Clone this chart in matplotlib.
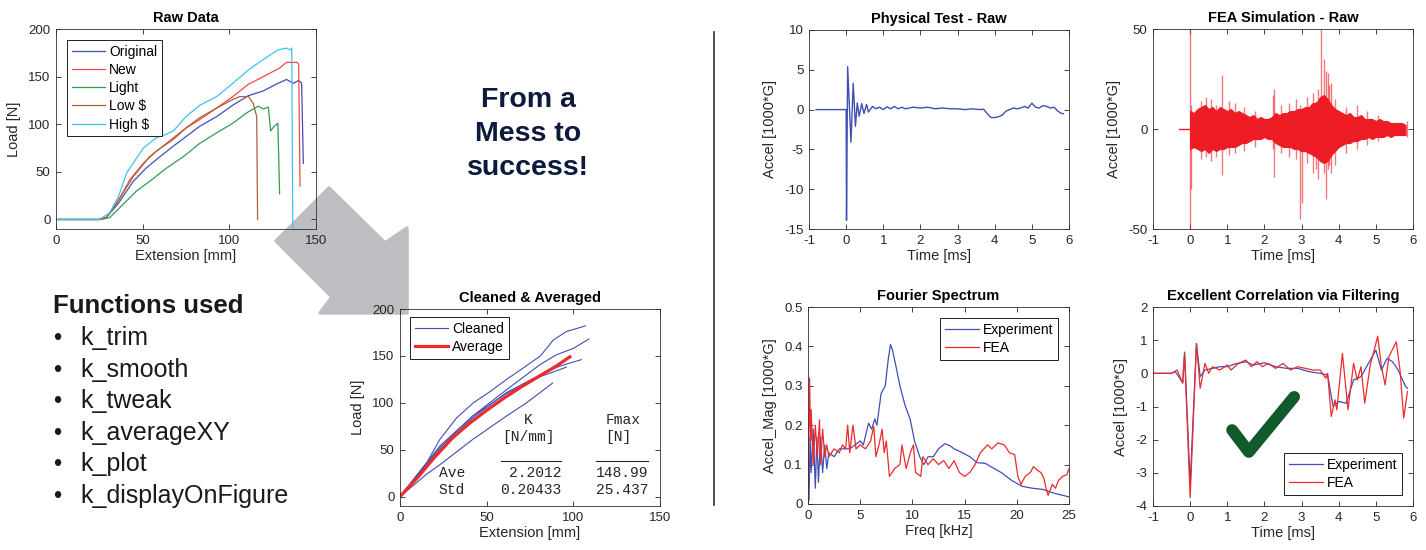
# -*- coding: utf-8 -*-

# ============================================================
#  Load / acceleration data clean-up overview (6 panels)
# ============================================================

import matplotlib.pyplot as plt
from matplotlib.lines import Line2D
from matplotlib.patches import Polygon
from matplotlib.ticker import FuncFormatter

W, H = 1426, 550

plt.rcParams['font.family'] = ['Liberation Sans', 'DejaVu Sans']
plt.rcParams['axes.unicode_minus'] = False

# ============================================================
# 1. Data
# ============================================================

# --- Raw Data (extension [mm], load [N]) ---
orig_x = [0, 25, 29, 36, 44.6, 52, 60, 67.7, 75, 83, 92.7, 102, 111, 119.6, 127, 133, 137, 140, 141.7, 142.7]
orig_y = [0, 0, 2, 17, 40, 54, 66, 77, 87, 98, 108, 120, 130, 135, 142, 147, 143, 146, 143, 59]
new_x = [0, 25, 29, 35, 42.7, 50.4, 58, 67.7, 75, 83, 92.7, 102, 111, 119.6, 129, 133, 139, 140, 140.8]
new_y = [0, 0, 2, 17, 42, 59, 72, 84, 96, 105, 117, 129, 142, 150, 159, 165, 165, 163, 35]
light_x = [0, 26, 31, 38.8, 46.5, 54, 63.8, 73.5, 83, 92.7, 102, 110, 116.7, 119.6, 122.5, 123.8, 126, 128, 129]
light_y = [0, 0, 2, 16, 30, 40, 54, 66, 80, 91, 101, 112, 119, 116, 118, 93, 98, 101, 27]
low_x = [0, 25, 29, 37, 44.6, 54, 63.8, 73.5, 83, 92.7, 102, 106, 111, 113.8, 115.8, 116.3]
low_y = [0, 0, 2, 23, 45, 66, 80, 94, 107, 117, 126, 129, 129, 122, 108, 0]
high_x = [0, 25, 31, 36, 40.8, 50.4, 58, 63, 67.7, 75, 83, 92.7, 102, 111, 119.6, 128, 133, 135, 136, 136.6]
high_y = [0, 0, 7, 24, 49, 75, 86, 89, 93, 108, 120, 129, 143, 157, 168, 178, 180, 178, 180, -9]

raw_labels = ['Original', 'New', 'Light', 'Low $', 'High $']

# --- Cleaned & Averaged ---
clean1_x = [0, 15.4, 23, 32.7, 42.3, 52, 61.5, 71, 81, 88.5, 96, 107]
clean1_y = [0, 36, 61, 84, 100, 112, 125, 137, 150, 167, 176, 182]
clean2_x = [0, 23, 42, 61.5, 81, 90, 100, 109]
clean2_y = [0, 54, 86, 114, 141, 151, 158, 168]
clean3_x = [0, 23, 42, 61.5, 81, 92, 104.6]
clean3_y = [0, 50, 84, 111, 130, 139, 146]
clean4_x = [0, 23, 42, 61.5, 81, 96]
clean4_y = [0, 52, 86, 110, 128, 138]
clean5_x = [0, 15.4, 23, 42, 61.5, 73, 88]
clean5_y = [0, 24, 34, 61, 86, 100, 121]
avg_x = [0, 10, 20, 30, 40, 50, 60, 70, 80, 90, 98]
avg_y = [0, 20, 42, 62, 78, 92, 105, 117, 128, 139, 149]

stat_rows = ['Ave', 'Std']
stat_k = ['2.2012', '0.20433']
stat_fmax = ['148.99', '25.437']

# --- Physical Test - Raw (time [ms], accel [1000*G]) ---
phys_t = [-0.81, 0.0, 0.01, 0.04, 0.13, 0.19, 0.25, 0.30, 0.35, 0.42, 0.48, 0.55, 0.60, 0.71,
          0.8, 0.9, 1.0, 1.1, 1.2, 1.3, 1.4, 1.5, 1.6, 1.8, 2.0, 2.2, 2.4, 2.6, 2.8, 3.0,
          3.2, 3.4, 3.6, 3.7, 3.8, 3.9, 4.0, 4.1, 4.2, 4.3, 4.4, 4.5, 4.6, 4.7, 4.8, 4.9,
          5.0, 5.1, 5.2, 5.3, 5.4, 5.5, 5.6, 5.7, 5.8, 5.85]
phys_a = [0, 0, -13.9, 5.4, -4.1, 3.3, -2.1, 0.85, -0.85, 0.75, -0.5, 0.65, -0.3, 0.4,
          0.1, 0.3, 0.0, 0.35, 0.1, 0.4, 0.1, 0.3, 0.1, 0.3, 0.2, 0.3, 0.1, 0.2, 0.1, 0.1,
          0.0, 0.1, 0.0, 0.05, -0.5, -1.0, -1.0, -0.9, -0.7, -0.2, 0.0, 0.2, 0.1, 0.2, 0.4, 0.2,
          0.8, 0.3, 0.2, 0.5, 0.4, 0.2, 0.3, -0.2, -0.5, -0.5]

# --- FEA Simulation - Raw: envelope of the dense band plus single spikes ---
fea_t = [0.0, 0.1, 0.2, 0.3, 0.4, 0.5, 0.6, 0.7, 0.8, 0.9, 1.0, 1.1, 1.2, 1.3, 1.4, 1.5,
         1.6, 1.7, 1.8, 1.9, 2.0, 2.1, 2.2, 2.3, 2.4, 2.5, 2.6, 2.7, 2.8, 2.9, 3.0, 3.1,
         3.2, 3.3, 3.4, 3.5, 3.6, 3.7, 3.8, 3.9, 4.0, 4.1, 4.2, 4.3, 4.4, 4.5, 4.6, 4.7,
         4.8, 4.9, 5.0, 5.1, 5.2, 5.3, 5.4, 5.5, 5.6, 5.7, 5.8]
fea_upper = [9, 8, 10, 11, 12, 10, 11, 9, 11, 10, 9, 10, 8, 9, 8, 7,
             6, 7, 5, 6, 5, 5, 6, 8, 7, 8, 8, 9, 9, 10, 10, 11,
             11, 13, 13, 16, 17, 15, 12, 10, 9, 8, 7, 8, 6, 6, 7, 5,
             5, 5, 4, 5, 4, 4, 3, 3, 3, 3, 2]
fea_lower = [-10, -9, -10, -11, -10, -12, -10, -11, -10, -10, -9, -9, -9, -8, -7, -7,
             -6, -5, -5, -5, -4, -5, -5, -7, -8, -9, -9, -9, -10, -10, -11, -11,
             -12, -13, -14, -16, -17, -16, -13, -11, -9, -8, -7, -7, -6, -6, -5, -5,
             -4, -5, -4, -4, -4, -3, -4, -3, -3, -3, -3]
fea_pre_t = [-0.3, 0.0]
fea_pre_a = [0, 0]
spike_t = [0.0, 0.02, 0.3, 0.44, 0.55, 0.7, 0.87, 1.05, 1.2, 1.45, 1.75, 2.22, 2.27, 2.45,
           2.65, 2.85, 2.95, 3.0, 3.15, 3.3, 3.4, 3.45, 3.53, 3.6, 3.65, 3.7, 3.75, 3.8,
           3.9, 4.2, 4.5, 4.75, 5.05, 5.85]
spike_top = [55, 12, 14, 16, 15, 12, 27, 14, 13, 11, 9, 17, 20, 12,
             13, 15, 12, 10, 16, 18, 14, 20, 55, 35, 29, 28, 22, 23,
             15, 11, 12, 9, 7, 4]
spike_bot = [-55, -30, -15, -14, -16, -14, -23, -13, -12, -11, -9, -10, -24, -12,
             -14, -15, -45, -37, -17, -22, -20, -25, -10, -22, -35, -20, -18, -22,
             -18, -12, -10, -8, -6, -4]

# --- Fourier Spectrum (freq [kHz], magnitude) ---
exp_f = [0.1, 0.2, 0.3, 0.5, 0.7, 0.85, 1.0, 1.2, 1.4, 1.6, 1.8, 2.0, 2.5, 3.0, 4.0, 4.5,
         5.0, 5.3, 5.8, 6.1, 6.4, 6.6, 7.0, 7.4, 7.7, 7.9, 8.1, 8.5, 8.8, 9.3, 9.8, 10.2,
         10.7, 11.1, 11.5, 12.0, 12.5, 13.1, 13.6, 14.0, 14.8, 15.5, 16.2, 17.0, 17.5, 18.5,
         19.5, 20.5, 21.5, 22.5, 23.5, 25.0]
exp_mag = [0.01, 0.17, 0.08, 0.19, 0.04, 0.17, 0.055, 0.17, 0.08, 0.15, 0.09, 0.13, 0.12, 0.14, 0.14, 0.15,
           0.16, 0.15, 0.205, 0.19, 0.216, 0.2, 0.28, 0.3, 0.37, 0.405, 0.39, 0.34, 0.3, 0.25, 0.214, 0.16,
           0.12, 0.1, 0.12, 0.12, 0.14, 0.153, 0.148, 0.14, 0.13, 0.12, 0.105, 0.103, 0.095, 0.08,
           0.06, 0.045, 0.04, 0.037, 0.028, 0.018]
fea_f = [0.0, 0.15, 0.25, 0.3, 0.5, 0.7, 0.9, 1.1, 1.2, 1.4, 1.6, 1.8, 2.0, 2.5, 3.0, 3.3,
         3.6, 3.8, 4.0, 4.3, 4.6, 5.0, 5.5, 6.0, 6.3, 6.5, 6.8, 7.1, 7.3, 7.5, 7.8, 8.3,
         8.8, 9.0, 9.4, 9.8, 10.1, 10.3, 10.8, 11.0, 11.5, 12.0, 12.5, 13.0, 13.5, 14.0,
         14.5, 15.0, 15.5, 16.0, 16.5, 17.2, 17.6, 18.2, 18.8, 19.3, 19.8, 20.1, 20.4, 20.8,
         21.3, 21.6, 22.0, 22.3, 22.6, 22.8, 23.0, 23.4, 23.7, 24.0, 24.4, 24.8, 25.0]
fea_mag = [0.0, 0.32, 0.16, 0.24, 0.1, 0.2, 0.12, 0.214, 0.1, 0.19, 0.12, 0.15, 0.12, 0.14, 0.13, 0.15,
           0.14, 0.2, 0.13, 0.2, 0.14, 0.15, 0.14, 0.16, 0.197, 0.12, 0.15, 0.19, 0.13, 0.16, 0.07, 0.09,
           0.1, 0.15, 0.09, 0.13, 0.15, 0.08, 0.07, 0.12, 0.1, 0.115, 0.1, 0.11, 0.09, 0.11,
           0.08, 0.07, 0.08, 0.1, 0.13, 0.15, 0.14, 0.155, 0.15, 0.13, 0.125, 0.07, 0.05, 0.07,
           0.08, 0.095, 0.085, 0.08, 0.065, 0.04, 0.022, 0.05, 0.04, 0.06, 0.07, 0.075, 0.09]

# --- Excellent Correlation via Filtering (filtered signals) ---
corr_exp_t = [-1.0, -0.5, -0.4, -0.2, -0.15, 0.0, 0.17, 0.27, 0.4, 0.6, 0.8, 1.0, 1.2, 1.5, 1.7,
              2.0, 2.3, 2.6, 2.9, 3.2, 3.5, 3.7, 3.85, 4.0, 4.2, 4.4, 4.6, 4.8, 5.0, 5.15, 5.3,
              5.45, 5.6, 5.8, 5.85]
corr_exp_a = [0, 0, 0.05, -0.28, 0.64, -3.35, 0.9, -0.1, 0.1, 0.15, 0.2, 0.2, 0.28, 0.35, 0.25,
              0.32, 0.2, 0.15, 0.15, 0.05, 0.0, -0.05, -1.0, -0.85, -0.9, -0.2, -0.1, 0.3, 0.7, 0.1, 0.45,
              0.35, 0.1, -0.4, -0.45]
corr_fea_t = [-1.0, -0.5, -0.35, -0.2, -0.15, 0.0, 0.17, 0.27, 0.4, 0.5, 0.6, 0.8, 1.0, 1.1, 1.3,
              1.5, 1.65, 1.8, 1.95, 2.1, 2.3, 2.5, 2.7, 2.9, 3.1, 3.3, 3.5, 3.65, 3.7, 3.8, 3.9,
              3.95, 4.1, 4.25, 4.4, 4.5, 4.6, 4.7, 4.85, 5.05, 5.15, 5.25, 5.35, 5.55, 5.65, 5.75, 5.85]
corr_fea_a = [0, 0, 0.1, -0.3, 0.6, -3.75, 0.9, -0.45, 0.3, 0.0, 0.2, 0.1, 0.25, 0.1, 0.3,
              0.4, 0.2, 0.35, 0.2, 0.3, 0.15, 0.3, 0.1, 0.2, 0.15, 0.1, 0.1, -0.15, 0.0, -1.3, -0.8,
              -1.1, 0.6, -1.1, 0.3, -0.2, 0.2, -0.9, 0.25, 1.12, 0.2, -0.35, 0.5, 0.95, 0.1, -1.35, -0.55]

functions_used = ['k_trim', 'k_smooth', 'k_tweak', 'k_averageXY', 'k_plot', 'k_displayOnFigure']
headline = ['From a', 'Mess to', 'success!']

# ============================================================
# 2. Styling helpers
# ============================================================

BLUE = '#3f4fb4'
RED = '#ee2a2a'
FEA_RED = '#ee1c24'
TXT = '#262626'


def fig_box(left, top, right, bottom):
    """Axes rectangle from pixel edges (origin top-left)."""
    return [left / W, 1 - bottom / H, (right - left) / W, (bottom - top) / H]


def fx(px):
    return px / W


def fy(py):
    return 1 - py / H


def style_axes(ax, title, xlabel, ylabel):
    ax.set_facecolor('none')
    ax.set_title(title, fontsize=10.5, fontweight='bold', pad=5, color='black')
    ax.set_xlabel(xlabel, fontsize=10.5, color=TXT, labelpad=2)
    ax.set_ylabel(ylabel, fontsize=10.5, color=TXT, labelpad=5)
    ax.tick_params(direction='in', top=True, right=True, length=3.5, width=0.6,
                   labelsize=9.5, colors=TXT, pad=4)
    for s in ax.spines.values():
        s.set_color('#303030')
        s.set_linewidth(0.6)
    ax.yaxis.set_major_formatter(FuncFormatter(lambda v, p: '%g' % round(v, 6)))


def matlab_legend(ax, **kw):
    leg = ax.legend(fontsize=10, frameon=True, fancybox=False, framealpha=1,
                    borderaxespad=0, borderpad=0.35, labelspacing=0.3,
                    handlelength=2.4, handletextpad=0.3, **kw)
    leg.get_frame().set_edgecolor('#202020')
    leg.get_frame().set_linewidth(0.7)
    return leg


fig = plt.figure(figsize=(W / 100, H / 100), dpi=100)

# ============================================================
# 3. Raw Data
# ============================================================

ax1 = fig.add_axes(fig_box(56, 29, 316, 229))
raw_series = [(orig_x, orig_y, BLUE), (new_x, new_y, '#f24848'), (light_x, light_y, '#2f9d52'),
              (low_x, low_y, '#a8633b'), (high_x, high_y, '#3cc4f0')]
for (xs, ys, col), lab in zip(raw_series, raw_labels):
    ax1.plot(xs, ys, color=col, lw=0.9, label=lab)
ax1.set_xlim(0, 150)
ax1.set_ylim(-10, 200)
ax1.set_xticks([0, 50, 100, 150])
ax1.set_yticks([0, 50, 100, 150, 200])
style_axes(ax1, 'Raw Data', 'Extension [mm]', 'Load [N]')
matlab_legend(ax1, loc='upper left', bbox_to_anchor=(0.042, 0.945))

# ============================================================
# 4. Cleaned & Averaged
# ============================================================

ax2 = fig.add_axes(fig_box(400, 309, 660, 506))
cleaned = [(clean1_x, clean1_y), (clean2_x, clean2_y), (clean3_x, clean3_y),
           (clean4_x, clean4_y), (clean5_x, clean5_y)]
for i, (xs, ys) in enumerate(cleaned):
    ax2.plot(xs, ys, color=BLUE, lw=0.8, label='Cleaned' if i == 0 else None)
ax2.plot(avg_x, avg_y, color=RED, lw=2.3, label='Average')
ax2.set_xlim(0, 150)
ax2.set_ylim(-10, 200)
ax2.set_xticks([0, 50, 100, 150])
ax2.set_yticks([0, 50, 100, 150, 200])
style_axes(ax2, 'Cleaned & Averaged', 'Extension [mm]', 'Load [N]')
matlab_legend(ax2, loc='upper left', bbox_to_anchor=(0.038, 0.959))

mono = dict(family=['Liberation Mono', 'DejaVu Sans Mono'], fontsize=10.5, color=TXT)
ax2.text(74, 82, 'K', ha='center', va='center', **mono)
ax2.text(74, 64, '[N/mm]', ha='center', va='center', **mono)
ax2.text(128.5, 82, 'Fmax', ha='center', va='center', **mono)
ax2.text(126, 64, '[N]', ha='center', va='center', **mono)
ax2.plot([58, 93], [37.5, 37.5], color=TXT, lw=0.8)
ax2.plot([113, 143], [37.5, 37.5], color=TXT, lw=0.8)
for row, lab in enumerate(stat_rows):
    yy = 25.5 - row * 18.5
    ax2.text(22.3, yy, lab, ha='left', va='center', **mono)
    ax2.text(93, yy, stat_k[row], ha='right', va='center', **mono)
    ax2.text(143.3, yy, stat_fmax[row], ha='right', va='center', **mono)

# ============================================================
# 5. Physical Test - Raw
# ============================================================

ax3 = fig.add_axes(fig_box(809, 30, 1069, 229))
ax3.plot(phys_t, phys_a, color=BLUE, lw=1.0)
ax3.set_xlim(-1, 6)
ax3.set_ylim(-15, 10)
ax3.set_xticks(range(-1, 7))
ax3.set_yticks([-15, -10, -5, 0, 5, 10])
style_axes(ax3, 'Physical Test - Raw', 'Time [ms]', 'Accel [1000*G]')

# ============================================================
# 6. FEA Simulation - Raw
# ============================================================

ax4 = fig.add_axes(fig_box(1153, 29, 1413, 229))
ax4.plot(fea_pre_t, fea_pre_a, color=FEA_RED, lw=1.0)
ax4.vlines(spike_t, spike_bot, spike_top, color=FEA_RED, lw=1.0, alpha=0.6)
ax4.fill_between(fea_t, fea_lower, fea_upper, color=FEA_RED, lw=0.8, edgecolor=FEA_RED)
ax4.set_xlim(-1, 6)
ax4.set_ylim(-50, 50)
ax4.set_xticks(range(-1, 7))
ax4.set_yticks([-50, 0, 50])
style_axes(ax4, 'FEA Simulation - Raw', 'Time [ms]', 'Accel [1000*G]')

# ============================================================
# 7. Fourier Spectrum
# ============================================================

ax5 = fig.add_axes(fig_box(808, 307, 1069, 504))
ax5.plot(exp_f, exp_mag, color=BLUE, lw=0.9, label='Experiment')
ax5.plot(fea_f, fea_mag, color=RED, lw=0.9, label='FEA')
ax5.set_xlim(0, 25)
ax5.set_ylim(0, 0.5)
ax5.set_xticks([0, 5, 10, 15, 20, 25])
ax5.set_yticks([0, 0.1, 0.2, 0.3, 0.4, 0.5])
style_axes(ax5, 'Fourier Spectrum', 'Freq [kHz]', 'Accel_Mag [1000*G]')
matlab_legend(ax5, loc='upper right', bbox_to_anchor=(0.958, 0.944))

# ============================================================
# 8. Excellent Correlation via Filtering
# ============================================================

ax6 = fig.add_axes(fig_box(1153, 307, 1413, 506))
ax6.plot(corr_exp_t, corr_exp_a, color=BLUE, lw=0.9, label='Experiment')
ax6.plot(corr_fea_t, corr_fea_a, color=RED, lw=0.9, label='FEA')
ax6.set_xlim(-1, 6)
ax6.set_ylim(-4, 2)
ax6.set_xticks(range(-1, 7))
ax6.set_yticks(range(-4, 3))
style_axes(ax6, 'Excellent Correlation via Filtering', 'Time [ms]', 'Accel [1000*G]')
matlab_legend(ax6, loc='lower right', bbox_to_anchor=(0.958, 0.055))

# green check mark
ax6.plot([1.13, 1.58, 2.80], [-1.71, -2.37, -0.71], color='#115a2c', lw=8.5,
         solid_capstyle='round', solid_joinstyle='round', zorder=5)

# ============================================================
# 9. Annotations: arrow, headline, divider, function list
# ============================================================

arrow_px = [(329, 188), (385, 243), (407, 228), (407, 313), (320, 313), (332, 297), (276, 241)]
arrow = Polygon([(fx(x), fy(y)) for x, y in arrow_px], closed=True, transform=fig.transFigure,
                facecolor='#bdbec1', edgecolor='#bdbec1', lw=2.5, joinstyle='round', zorder=-1)
fig.patches.append(arrow)

for i, line in enumerate(headline):
    fig.text(fx(528), fy(107 + 34 * i), line, ha='center', va='baseline',
             fontsize=20.5, fontweight='bold', color='#0e1a3c')

fig.add_artist(Line2D([fx(714), fx(714)], [fy(32), fy(505)], color='#303030', lw=1.2))

fig.text(fx(53), fy(313), 'Functions used', ha='left', va='baseline',
         fontsize=18.5, fontweight='bold', color='#1a1a1a')
for i, name in enumerate(functions_used):
    yb = fy(345 + 31.6 * i)
    fig.text(fx(53), yb, '\u2022', ha='left', va='baseline', fontsize=17, color='#1a1a1a')
    fig.text(fx(80), yb, name, ha='left', va='baseline', fontsize=18, color='#1a1a1a')

fig.savefig('out.png', dpi=100)
